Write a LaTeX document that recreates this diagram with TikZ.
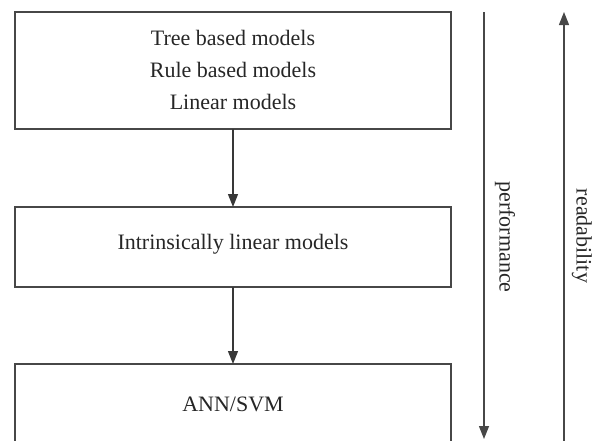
\documentclass[tikz,border=0pt]{standalone}
\usepackage{fontspec}
\setmainfont{Liberation Serif}
\usetikzlibrary{arrows.meta}
\begin{document}
\begin{tikzpicture}[x=1pt,y=-1pt,
  box/.style={draw=black!72, line width=1.6pt},
  lbl/.style={text=black!85, font=\fontsize{22}{26}\selectfont, inner sep=0pt},
  tip/.style={-{Triangle[length=13pt,width=10pt]}},
  flow/.style={draw=black!78, line width=1.4pt, tip},
  axis/.style={draw=black!72, line width=1.4pt, tip}]
  \useasboundingbox (0,0) rectangle (598,440);
  \begin{scope}
    \clip (0,0) rectangle (598,440);
    % model boxes
    \draw[box] (15,12) rectangle (451,129);
    \draw[box] (15,207) rectangle (451,287);
    \draw[box] (15,364) rectangle (451,470);
    \coordinate (b1s) at (233,129);
    \coordinate (b2n) at (233,207);
    \coordinate (b2s) at (233,287);
    \coordinate (b3n) at (233,364);
    \node[lbl] (t1) at (233,38) {Tree based models};
    \node[lbl] (t2) at (233,70) {Rule based models};
    \node[lbl] (t3) at (233,102) {Linear models};
    \node[lbl] (t4) at (233,244) {Intrinsically linear models};
    \node[lbl] (t5) at (233,404) {ANN/SVM};
    \draw[flow] (b1s) -- (b2n);
    \draw[flow] (b2s) -- (b3n);
    % side scales
    \coordinate (p0) at (484,12);
    \coordinate (p1) at (484,439);
    \coordinate (r0) at (564,450);
    \coordinate (r1) at (564,12);
    \draw[axis] (p0) -- (p1);
    \draw[axis] (r0) -- (r1);
    \node[lbl, rotate=-90] (perf) at (505,237) {performance};
    \node[lbl, rotate=-90] (read) at (582,236) {readability};
  \end{scope}
\end{tikzpicture}
\end{document}
